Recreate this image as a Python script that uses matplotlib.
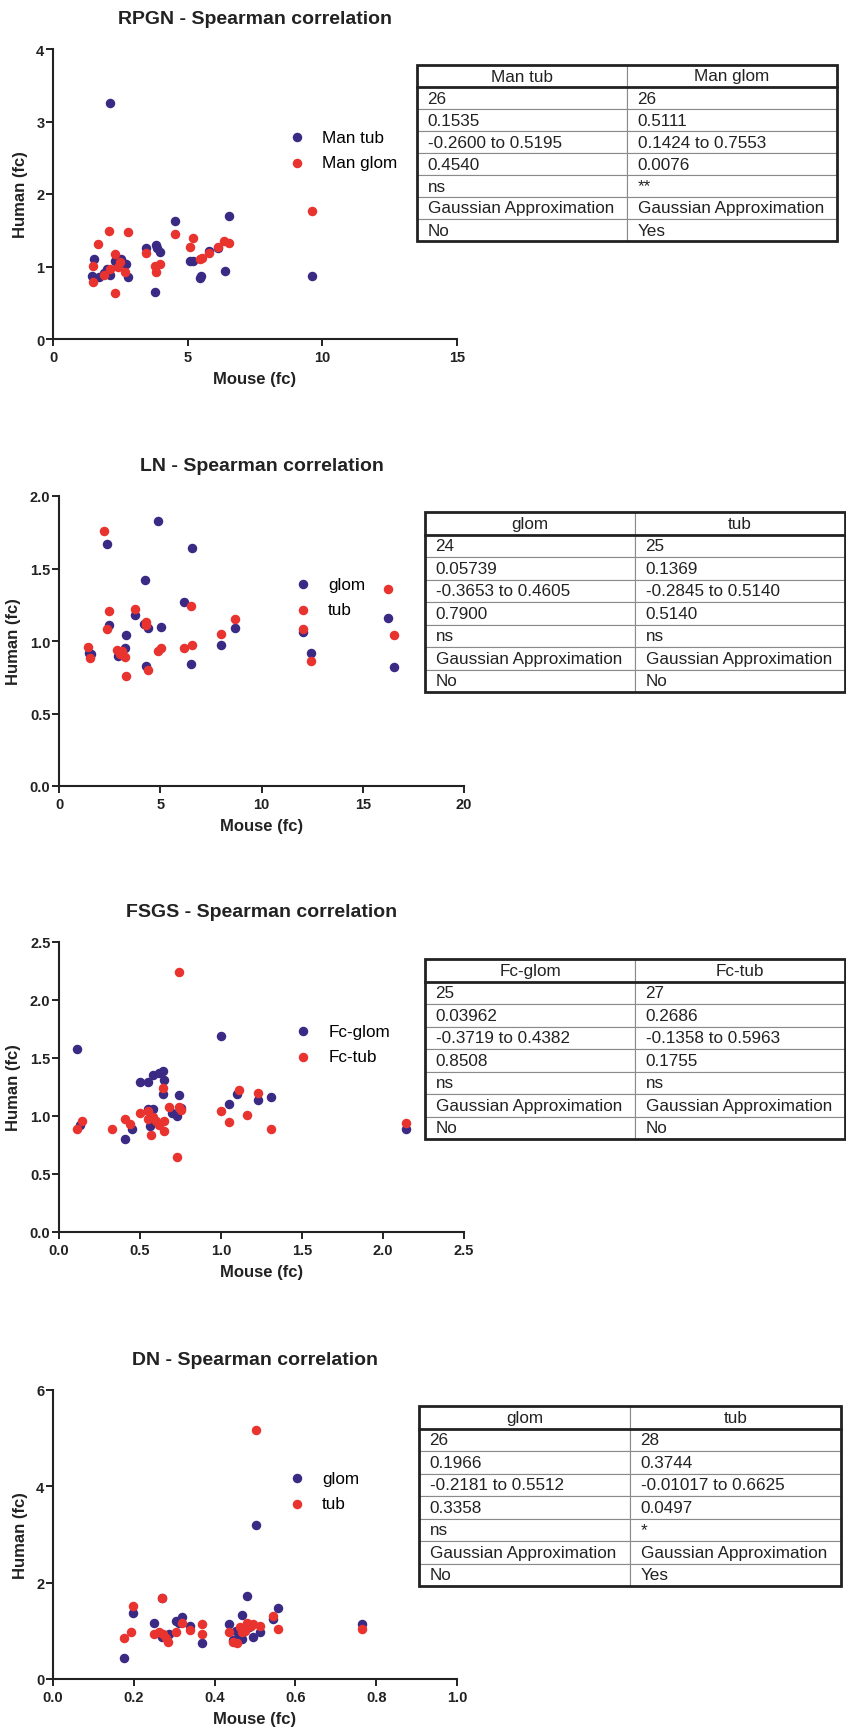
"""Corrélations de Spearman souris vs humain (fold change), 4 panneaux + tableaux."""
import matplotlib
matplotlib.use("Agg")
import matplotlib.pyplot as plt
from matplotlib.patches import Rectangle

plt.rcParams["font.family"] = ["Liberation Sans", "DejaVu Sans"]

W, H = 846, 1733
PURPLE = "#3b2a84"
RED = "#e8332f"

# --- RPGN ---
rpgn_a_x = [2.10, 1.51, 1.45, 1.69, 1.88, 2.00, 2.13, 2.29, 2.43, 2.52, 2.56, 2.72, 2.78,
            3.46, 3.81, 3.86, 3.96, 3.77, 4.54, 5.09, 5.19, 5.50, 5.46, 5.80, 6.14, 6.38, 6.55, 9.63]
rpgn_a_y = [3.26, 1.11, 0.87, 0.86, 0.91, 0.97, 0.88, 1.08, 1.01, 1.11, 1.06, 1.03, 0.85,
            1.25, 1.29, 1.26, 1.20, 0.65, 1.63, 1.08, 1.08, 0.87, 0.84, 1.22, 1.26, 0.94, 1.69, 0.87]
rpgn_b_x = [1.48, 1.47, 1.67, 1.88, 2.09, 2.13, 2.29, 2.29, 2.40, 2.50, 2.68, 2.77, 3.45,
            3.77, 3.82, 3.96, 4.54, 5.07, 5.19, 5.44, 5.53, 5.80, 6.12, 6.35, 6.55, 9.63]
rpgn_b_y = [1.01, 0.78, 1.31, 0.88, 1.49, 0.97, 1.17, 0.64, 0.99, 1.06, 0.93, 1.47, 1.18,
            1.01, 0.93, 1.03, 1.45, 1.27, 1.39, 1.11, 1.12, 1.18, 1.27, 1.35, 1.32, 1.76]
rpgn_names = ["Man tub", "Man glom"]
rpgn_stats = [["26", "26"], ["0.1535", "0.5111"], ["-0.2600 to 0.5195", "0.1424 to 0.7553"],
              ["0.4540", "0.0076"], ["ns", "**"],
              ["Gaussian Approximation", "Gaussian Approximation"], ["No", "Yes"]]

# --- LN ---
ln_a_x = [1.48, 1.57, 2.37, 2.47, 2.92, 3.08, 3.25, 3.29, 3.74, 4.20, 4.27, 4.32, 4.40,
          4.91, 5.02, 6.18, 6.59, 6.51, 7.99, 8.70, 12.04, 12.42, 16.26, 16.56]
ln_a_y = [0.92, 0.91, 1.67, 1.11, 0.90, 0.92, 0.95, 1.04, 1.18, 1.12, 1.42, 0.83, 1.09,
          1.83, 1.10, 1.27, 1.64, 0.84, 0.97, 1.09, 1.06, 0.92, 1.16, 0.82]
ln_b_x = [1.43, 1.55, 2.24, 2.37, 2.47, 2.87, 3.00, 3.13, 3.25, 3.29, 3.74, 4.32, 4.32,
          4.40, 4.91, 5.02, 6.16, 6.51, 6.59, 8.01, 8.70, 12.04, 12.42, 16.26, 16.56]
ln_b_y = [0.96, 0.88, 1.76, 1.08, 1.21, 0.94, 0.91, 0.93, 0.89, 0.76, 1.22, 1.13, 1.11,
          0.80, 0.93, 0.95, 0.95, 1.24, 0.97, 1.05, 1.15, 1.08, 0.86, 1.36, 1.04]
ln_names = ["glom", "tub"]
ln_stats = [["24", "25"], ["0.05739", "0.1369"], ["-0.3653 to 0.4605", "-0.2845 to 0.5140"],
            ["0.7900", "0.5140"], ["ns", "ns"],
            ["Gaussian Approximation", "Gaussian Approximation"], ["No", "No"]]

# --- FSGS ---
fsgs_a_x = [0.11, 0.13, 0.41, 0.45, 0.50, 0.55, 0.55, 0.58, 0.58, 0.56, 0.57, 0.62, 0.64,
            0.65, 0.64, 0.70, 0.74, 0.73, 0.75, 1.00, 1.05, 1.10, 1.23, 1.31, 2.14]
fsgs_a_y = [1.58, 0.92, 0.80, 0.89, 1.29, 1.29, 1.06, 1.35, 1.06, 0.91, 0.98, 1.37, 1.39,
            1.31, 1.19, 1.03, 1.18, 1.00, 1.07, 1.69, 1.10, 1.19, 1.14, 1.16, 0.89]
fsgs_b_x = [0.11, 0.14, 0.33, 0.41, 0.44, 0.50, 0.55, 0.55, 0.57, 0.58, 0.60, 0.62, 0.64,
            0.65, 0.65, 0.68, 0.74, 0.73, 0.75, 0.74, 1.00, 1.05, 1.11, 1.16, 1.23, 1.31, 2.14]
fsgs_b_y = [0.89, 0.96, 0.89, 0.97, 0.93, 1.03, 1.04, 0.97, 0.84, 0.99, 0.96, 0.92, 1.24,
            0.96, 0.87, 1.08, 2.24, 0.65, 1.05, 1.08, 1.04, 0.95, 1.22, 1.01, 1.20, 0.89, 0.94]
fsgs_names = ["Fc-glom", "Fc-tub"]
fsgs_stats = [["25", "27"], ["0.03962", "0.2686"], ["-0.3719 to 0.4382", "-0.1358 to 0.5963"],
              ["0.8508", "0.1755"], ["ns", "ns"],
              ["Gaussian Approximation", "Gaussian Approximation"], ["No", "No"]]

# --- DN ---
dn_a_x = [0.176, 0.199, 0.249, 0.269, 0.271, 0.286, 0.304, 0.313, 0.320, 0.338, 0.369, 0.436, 0.446,
          0.453, 0.459, 0.469, 0.469, 0.471, 0.479, 0.484, 0.496, 0.502, 0.512, 0.545, 0.556, 0.765]
dn_a_y = [0.43, 1.38, 1.17, 0.88, 1.69, 0.93, 1.20, 1.17, 1.29, 1.09, 0.75, 1.14, 0.82,
          0.99, 0.83, 1.33, 0.84, 1.04, 1.73, 1.07, 0.88, 3.20, 0.97, 1.24, 1.48, 1.15]
dn_b_x = [0.175, 0.194, 0.199, 0.249, 0.262, 0.270, 0.273, 0.279, 0.284, 0.304, 0.319, 0.338, 0.369,
          0.369, 0.436, 0.446, 0.456, 0.463, 0.469, 0.475, 0.479, 0.489, 0.496, 0.502, 0.512, 0.545,
          0.556, 0.765]
dn_b_y = [0.86, 0.97, 1.52, 0.93, 0.97, 1.69, 0.93, 0.86, 0.77, 0.97, 1.16, 1.02, 1.14,
          0.93, 0.97, 0.76, 0.75, 1.07, 0.97, 1.00, 1.17, 1.11, 1.14, 5.16, 1.09, 1.31,
          1.04, 1.04]
dn_names = ["glom", "tub"]
dn_stats = [["26", "28"], ["0.1966", "0.3744"], ["-0.2181 to 0.5512", "-0.01017 to 0.6625"],
            ["0.3358", "0.0497"], ["ns", "*"],
            ["Gaussian Approximation", "Gaussian Approximation"], ["No", "Yes"]]

panels = [
    dict(title="RPGN - Spearman correlation", a=(rpgn_a_x, rpgn_a_y), b=(rpgn_b_x, rpgn_b_y),
         names=rpgn_names, stats=rpgn_stats, xlim=(0, 15), xt=[0, 5, 10, 15], xfmt="{:g}",
         ylim=(0, 4), yt=[0, 1, 2, 3, 4], yfmt="{:g}",
         box=(53, 50, 457, 340), leg=(288, 151), tab=(417, 66, 837, 242)),
    dict(title="LN - Spearman correlation", a=(ln_a_x, ln_a_y), b=(ln_b_x, ln_b_y),
         names=ln_names, stats=ln_stats, xlim=(0, 20), xt=[0, 5, 10, 15, 20], xfmt="{:g}",
         ylim=(0, 2), yt=[0, 0.5, 1.0, 1.5, 2.0], yfmt="{:.1f}",
         box=(59, 497, 464, 787), leg=(294, 598), tab=(425, 513, 845, 693)),
    dict(title="FSGS - Spearman correlation", a=(fsgs_a_x, fsgs_a_y), b=(fsgs_b_x, fsgs_b_y),
         names=fsgs_names, stats=fsgs_stats, xlim=(0, 2.5), xt=[0, 0.5, 1.0, 1.5, 2.0, 2.5],
         xfmt="{:.1f}", ylim=(0, 2.5), yt=[0, 0.5, 1.0, 1.5, 2.0, 2.5], yfmt="{:.1f}",
         box=(59, 943, 464, 1233), leg=(294, 1045), tab=(425, 960, 845, 1140)),
    dict(title="DN - Spearman correlation", a=(dn_a_x, dn_a_y), b=(dn_b_x, dn_b_y),
         names=dn_names, stats=dn_stats, xlim=(0, 1.0), xt=[0, 0.2, 0.4, 0.6, 0.8, 1.0],
         xfmt="{:.1f}", ylim=(0, 6), yt=[0, 2, 4, 6], yfmt="{:g}",
         box=(53, 1391, 457, 1680), leg=(288, 1492), tab=(419, 1407, 841, 1587)),
]


def fig_rect(l, t, r, b):
    return [l / W, 1 - b / H, (r - l) / W, (b - t) / H]


fig = plt.figure(figsize=(W / 100, H / 100), dpi=100)

for p in panels:
    ax = fig.add_axes(fig_rect(*p["box"]))
    ax.scatter(*p["a"], s=34, color=PURPLE, label=p["names"][0], zorder=3, clip_on=False)
    ax.scatter(*p["b"], s=34, color=RED, label=p["names"][1], zorder=4, clip_on=False)
    ax.set_xlim(*p["xlim"]); ax.set_ylim(*p["ylim"])
    ax.set_xticks(p["xt"]); ax.set_xticklabels([p["xfmt"].format(v) for v in p["xt"]])
    ax.set_yticks(p["yt"]); ax.set_yticklabels([p["yfmt"].format(v) for v in p["yt"]])
    for s in ("top", "right"):
        ax.spines[s].set_visible(False)
    for s in ("left", "bottom"):
        ax.spines[s].set_linewidth(1.5); ax.spines[s].set_color("#222222")
    ax.tick_params(direction="out", length=4.7, width=1.4, color="#222222",
                   labelsize=10.5, labelcolor="#222222")
    ax.tick_params(axis="y", pad=1.5)
    ax.tick_params(axis="x", pad=3)
    for lab in ax.get_xticklabels() + ax.get_yticklabels():
        lab.set_fontweight("bold")
    ax.set_title(p["title"], fontsize=14, fontweight="bold", pad=19, color="#222222")
    ax.set_xlabel("Mouse (fc)", fontsize=12, fontweight="bold", labelpad=5, color="#222222")
    ax.set_ylabel("Human (fc)", fontsize=12, fontweight="bold", labelpad=6, color="#222222")

    lx, ly = p["leg"]
    ax.legend(loc="center left", bbox_to_anchor=(lx / W, 1 - ly / H),
              bbox_transform=fig.transFigure, frameon=False, fontsize=12.3,
              scatterpoints=1, handlelength=1.0, handletextpad=1.0,
              labelspacing=0.62, borderpad=0, borderaxespad=0)

    # tableau de résultats
    tax = fig.add_axes(fig_rect(*p["tab"]))
    tax.axis("off")
    tbl = tax.table(cellText=p["stats"], colLabels=p["names"], cellLoc="left",
                    colLoc="center", bbox=[0, 0, 1, 1])
    tbl.auto_set_font_size(False)
    for (r, c), cell in tbl.get_celld().items():
        cell.set_edgecolor("#8a8a8a")
        cell.set_linewidth(0.8)
        cell.PAD = 0.05
        cell.get_text().set_fontsize(12.3)
        cell.get_text().set_color("#222222")
    n = len(p["stats"]) + 1
    tax.add_patch(Rectangle((0, 0), 1, 1, transform=tax.transAxes, fill=False,
                            lw=2, edgecolor="#222222", clip_on=False, zorder=5))
    tax.plot([0, 1], [1 - 1 / n, 1 - 1 / n], transform=tax.transAxes, lw=2,
             color="#222222", clip_on=False, zorder=5)

fig.savefig("out.png", dpi=100)
